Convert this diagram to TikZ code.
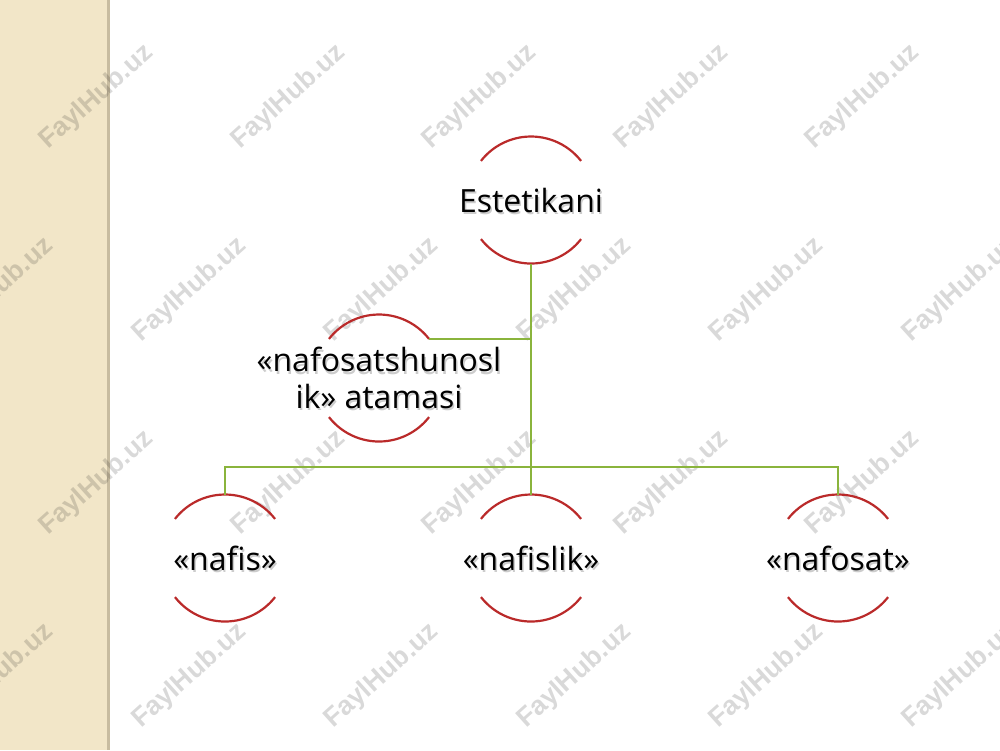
\documentclass[tikz,border=0pt]{standalone}
\usepackage{fontspec}
\setmainfont{Open Sans}
\newfontfamily\wmfont{Liberation Sans}
\definecolor{beige}{RGB}{242,230,200}
\definecolor{beigeedge}{RGB}{200,188,160}
\definecolor{arcred}{RGB}{186,42,42}
\definecolor{linkgreen}{RGB}{138,180,60}
\begin{document}
\begin{tikzpicture}[
		ring/.style={circle,minimum size=1.27cm,inner sep=0pt,outer sep=0pt},
		arcline/.style={arcred,line width=0.022cm},
		link/.style={linkgreen,line width=0.022cm},
		lbl/.style={font=\fontsize{9.1}{9.1}\selectfont,align=center,inner sep=0pt},
		wm/.style={font=\wmfont\bfseries\fontsize{7.6}{8}\selectfont,text=black,text opacity=0.15,rotate=42}
	]
		\useasboundingbox (0,0) rectangle (10,-7.5);
		\fill[white] (0,0) rectangle (10,-7.5);
		\fill[beige] (0,0) rectangle (1.08,-7.5);
		\draw[beigeedge,line width=0.03cm] (1.085,0) -- (1.085,-7.5);
		% watermark
		\foreach \y in {0,1} {
			\foreach \x in {0,...,4}
				\node[wm] (wa-\x-\y) at (0.97+1.915*\x,-0.97-3.86*\y) {FaylHub.uz};
			\foreach \x in {0,...,5}
				\node[wm] (wb-\x-\y) at (-0.03+1.925*\x,-2.90-3.86*\y) {FaylHub.uz};
		}
		\node[ring] (top) at (5.31,-2.00) {};
		\node[ring] (term) at (3.79,-3.78) {};
		\node[ring] (nafis) at (2.25,-5.58) {};
		\node[ring] (nafislik) at (5.31,-5.58) {};
		\node[ring] (nafosat) at (8.38,-5.58) {};
		\coordinate (bus) at (5.31,-4.67);
		\foreach \n in {top,term,nafis,nafislik,nafosat} {
			\draw[arcline] (\n.38) arc[start angle=38,end angle=142,radius=0.635cm];
			\draw[arcline] (\n.218) arc[start angle=218,end angle=322,radius=0.635cm];
		}
		\draw[link] (top.south) -- (nafislik.north);
		\draw[link] (term.38) -- (term.38 -| top.south);
		\draw[link] (nafis.north) |- (bus) -| (nafosat.north);
		\foreach \n/\t in {top/Estetikani,term/{«nafosatshunosl\\[1.2pt]ik» atamasi},nafis/«nafis»,nafislik/«nafislik»,nafosat/«nafosat»} {
			\node[lbl,text opacity=0.2] (\n-shadow) at ([shift={(0.015,-0.025)}]\n) {\t};
			\node[lbl] (\n-text) at (\n) {\t};
		}
\end{tikzpicture}
\end{document}
